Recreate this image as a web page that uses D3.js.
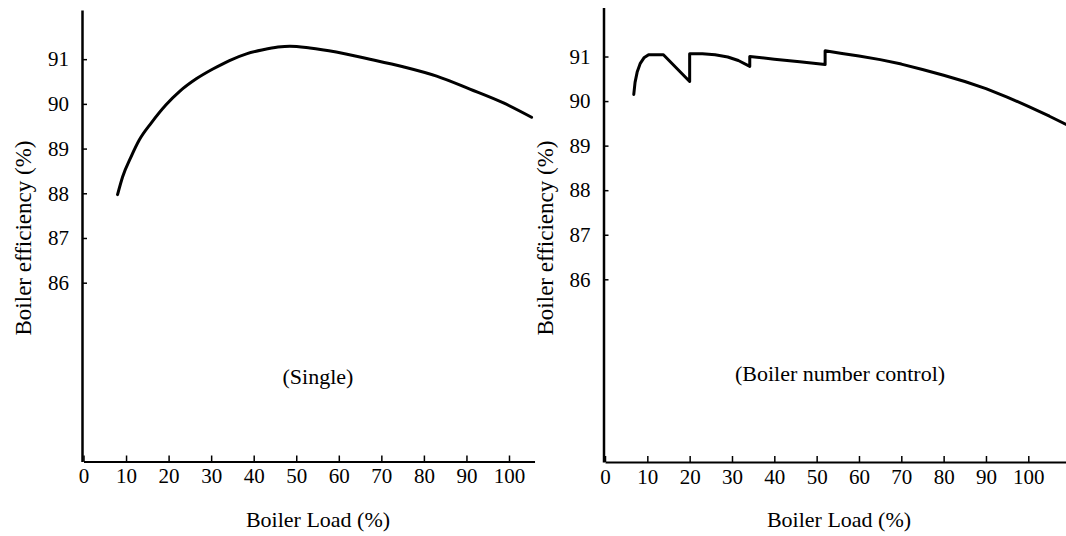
<!DOCTYPE html>
<html>
<head>
<meta charset="utf-8">
<script src="https://cdn.jsdelivr.net/npm/d3@7"></script>
<style>
  html, body { margin: 0; padding: 0; background: #fff; }
  svg { display: block; }
</style>
</head>
<body>
<svg id="chart" width="1066" height="536"></svg>
<script>
// ---- Data ----
const xTickValues = [0, 10, 20, 30, 40, 50, 60, 70, 80, 90, 100];
const yTickValues = [86, 87, 88, 89, 90, 91];

const xTitle = "Boiler Load (%)";
const yTitle = "Boiler efficiency (%)";
const panelLabels = ["(Single)", "(Boiler number control)"];

// Single boiler
const singleLoad = [8, 9.2, 11.2, 13.1, 15.9, 19.4, 22.6, 26.5, 30.4, 34.3, 38.3, 42.2, 45.7, 48.5, 53.2, 59.4, 67.3, 75.1, 83.0, 90.8, 98.7, 105.3];
const singleEff  = [87.97, 88.37, 88.82, 89.19, 89.57, 89.98, 90.28, 90.56, 90.78, 90.97, 91.12, 91.21, 91.27, 91.29, 91.25, 91.16, 91.0, 90.83, 90.62, 90.33, 90.02, 89.70];

// Boiler number control (repeated loads = vertical jumps when a boiler is added)
const controlLoad = [6.8, 7.1, 7.6, 8.3, 9.2, 10.3, 13.8, 20.0, 20.0, 23.0, 26.0, 29.0, 31.5, 34.2, 34.2, 40.0, 46.0, 52.0, 52.0, 56.0, 60.0, 65.0, 70.0, 75.0, 80.0, 85.0, 90.0, 95.0, 100.0, 105.0, 109.5];
const controlEff  = [90.15, 90.42, 90.65, 90.84, 90.97, 91.04, 91.04, 90.44, 91.06, 91.06, 91.04, 90.99, 90.91, 90.78, 91.00, 90.94, 90.88, 90.82, 91.13, 91.07, 91.01, 90.93, 90.83, 90.71, 90.58, 90.44, 90.28, 90.09, 89.88, 89.66, 89.45];

// ---- Layout ----
const svg = d3.select("#chart");
const FONT = "Liberation Serif";

const panels = [
  { load: singleLoad, eff: singleEff, label: panelLabels[0],
    x0: 83.5, pxPerUnit: 4.255, xMax: 106, yBottom: 461.5, yTop: 10, yMin: 82, yMax: 92.1,
    labelX: 318, labelY: 384, yTitleX: 31, titleX: 318, curve: d3.curveMonotoneX },
  { load: controlLoad, eff: controlEff, label: panelLabels[1],
    x0: 605, pxPerUnit: 4.233, xMax: 109.5, yBottom: 462, yTop: 7.5, yMin: 81.9, yMax: 92.1,
    labelX: 840, labelY: 381, yTitleX: 553, titleX: 839, curve: d3.curveLinear }
];

panels.forEach(p => {
  const x = d3.scaleLinear().domain([0, p.xMax]).range([p.x0, p.x0 + p.xMax * p.pxPerUnit]);
  const y = d3.scaleLinear().domain([p.yMin, p.yMax]).range([p.yBottom, p.yTop]);
  const g = svg.append("g");

  // X axis (ticks pointing up into the plot)
  const xAxis = d3.axisBottom(x).tickValues(xTickValues).tickSizeInner(-6).tickSizeOuter(0).tickPadding(7)
    .tickFormat(d3.format("d"));
  const gx = g.append("g").attr("transform", `translate(0,${p.yBottom})`).call(xAxis);
  gx.attr("font-family", null).attr("font-size", null);
  gx.select(".domain").attr("stroke", "#000").attr("stroke-width", 2);
  gx.selectAll(".tick line").attr("stroke", "#000").attr("stroke-width", 1.5);
  gx.selectAll(".tick text").attr("font-size", 21).style("font-family", FONT).attr("fill", "#000");

  // Y axis (ticks pointing right into the plot)
  const yAxis = d3.axisLeft(y).tickValues(yTickValues).tickSizeInner(-5).tickSizeOuter(0).tickPadding(13)
    .tickFormat(d3.format("d"));
  const gy = g.append("g").attr("transform", `translate(${p.x0 - 1.5},0)`).call(yAxis);
  gy.attr("font-family", null).attr("font-size", null);
  gy.select(".domain").attr("stroke", "#000").attr("stroke-width", 2.5);
  gy.selectAll(".tick line").attr("stroke", "#000").attr("stroke-width", 1.5);
  gy.selectAll(".tick text").attr("font-size", 21).style("font-family", FONT).attr("fill", "#000");

  // Curve: pieces split at vertical jumps (repeated loads), joined by vertical strokes
  const pts = p.load.map((v, i) => [v, p.eff[i]]);
  const pieces = [];
  let cur = [];
  pts.forEach((pt, i) => {
    if (i > 0 && pt[0] === pts[i - 1][0]) { pieces.push(cur); cur = []; }
    cur.push(pt);
  });
  pieces.push(cur);
  const line = d3.line().x(d => x(d[0])).y(d => y(d[1])).curve(p.curve);
  const d = pieces.map((pc, i) => {
    const s = line(pc);
    return i === 0 ? s : "L" + s.slice(1);
  }).join("");
  g.append("path").attr("d", d).attr("fill", "none").attr("stroke", "#000")
    .attr("stroke-width", 3).attr("stroke-linejoin", "round").attr("stroke-linecap", "round");

  // Panel label
  g.append("text")
    .attr("x", p.labelX).attr("y", p.labelY)
    .attr("text-anchor", "middle")
    .attr("font-size", 22)
    .style("font-family", FONT)
    .text(p.label);

  // X title
  g.append("text")
    .attr("x", p.titleX).attr("y", 527)
    .attr("text-anchor", "middle")
    .attr("font-size", 22)
    .style("font-family", FONT)
    .text(xTitle);

  // Y title
  g.append("text")
    .attr("transform", `translate(${p.yTitleX},238) rotate(-90)`)
    .attr("text-anchor", "middle")
    .attr("font-size", 23)
    .style("font-family", FONT)
    .text(yTitle);
});
</script>
</body>
</html>
